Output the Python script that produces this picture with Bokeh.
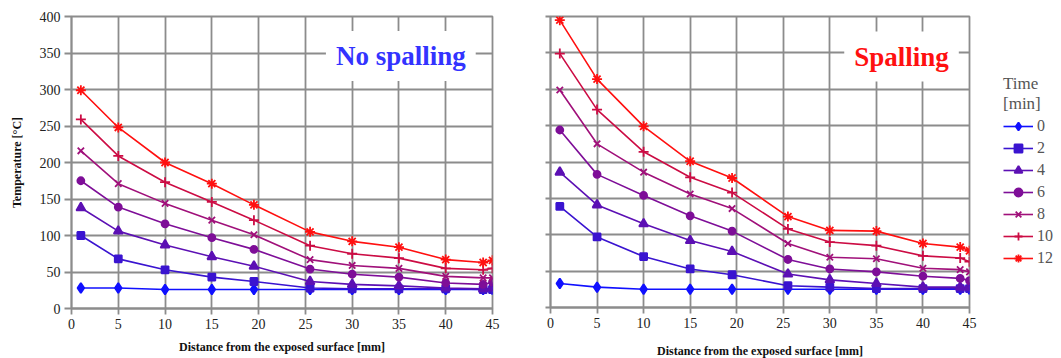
from bokeh.plotting import figure
from bokeh.models import Label, Legend, LegendItem, FixedTicker, Range1d
from bokeh.layouts import row
from bokeh.embed import file_html
from bokeh.resources import INLINE

# ---- data ----
dist = [1, 5, 10, 15, 19.5, 25.5, 30, 35, 40, 44, 45]
time_labels = ["0", "2", "4", "6", "8", "10", "12"]

ns_0 = [28, 28, 26, 26, 26, 26, 26, 26, 26, 26, 26]
ns_2 = [100, 68, 53, 43, 37, 28, 27, 27, 27, 26, 26]
ns_4 = [138, 106, 87, 71, 58, 37, 33, 31, 28, 27, 28]
ns_6 = [175, 139, 116, 97, 81, 54, 47, 43, 35, 33, 36]
ns_8 = [216, 171, 144, 121, 101, 67, 59, 55, 44, 42, 42]
ns_10 = [259, 209, 173, 146, 121, 86, 75, 69, 55, 53, 55]
ns_12 = [299, 248, 200, 171, 142, 105, 92, 84, 67, 63, 66]

sp_0 = [33, 28, 25, 25, 25, 25, 25, 25, 25, 25, 25]
sp_2 = [139, 97, 70, 53, 45, 30, 28, 26, 26, 26, 26]
sp_4 = [186, 141, 115, 92, 77, 46, 38, 33, 28, 28, 28]
sp_6 = [244, 183, 154, 126, 105, 66, 53, 49, 43, 40, 37]
sp_8 = [299, 225, 186, 156, 136, 88, 69, 67, 54, 52, 49]
sp_10 = [349, 272, 214, 179, 158, 108, 90, 85, 71, 68, 63]
sp_12 = [395, 314, 249, 201, 178, 125, 106, 105, 88, 83, 78]

x_ticks = [0, 5, 10, 15, 20, 25, 30, 35, 40, 45]
y_ticks = [0, 50, 100, 150, 200, 250, 300, 350, 400]

# ---- styles ----
colors = ["#1010ff", "#3a14d0", "#5c10b4", "#7e0e98", "#a0107a", "#cc0c44", "#ff1010"]
markers = ["diamond", "square", "triangle", "circle", "x", "cross", "asterisk"]
msizes = [10, 7, 9, 7, 9, 10, 10]
SERIF = "Liberation Serif"
GRID = "#8c8c8c"


def make_fig(series, left_border, top_border, bottom_border, right_border,
             fw, fh, show_ylabels, xlabel_standoff):
    p = figure(width=left_border + fw + right_border,
               height=top_border + fh + bottom_border,
               frame_width=fw, frame_height=fh,
               min_border_left=left_border, min_border_right=right_border,
               min_border_top=top_border, min_border_bottom=bottom_border,
               x_range=Range1d(0, 45), y_range=Range1d(0, 400),
               output_backend="svg", toolbar_location=None)
    p.background_fill_color = "white"
    p.border_fill_color = "white"
    p.outline_line_color = GRID
    p.outline_line_width = 1.8

    for ax in (p.xaxis[0], p.yaxis[0]):
        ax.axis_line_color = GRID
        ax.axis_line_width = 1.8
        ax.major_tick_line_color = GRID
        ax.major_tick_line_width = 1.8
        ax.major_tick_in = 0
        ax.minor_tick_line_color = None
        ax.major_label_text_font = SERIF
        ax.major_label_text_font_size = "14px"
        ax.major_label_text_color = "#222222"
        ax.axis_label_text_font = SERIF
        ax.axis_label_text_font_style = "bold"
        ax.axis_label_text_font_size = "12px"
        ax.axis_label_text_color = "#111111"

    p.xaxis.ticker = FixedTicker(ticks=x_ticks)
    p.yaxis.ticker = FixedTicker(ticks=y_ticks)
    p.xaxis.major_tick_out = 6
    p.xaxis.major_label_standoff = 4
    p.xaxis.axis_label = "Distance from the exposed surface [mm]"
    p.xaxis.axis_label_standoff = xlabel_standoff
    if show_ylabels:
        p.yaxis.major_tick_out = 7
        p.yaxis.major_label_standoff = 4
        p.yaxis.axis_label = "Temperature [°C]"
        p.yaxis.axis_label_standoff = 13
    else:
        p.yaxis.major_tick_out = 5
        p.yaxis.major_label_overrides = {t: "" for t in y_ticks}
        p.yaxis.major_label_standoff = 0

    p.xgrid.ticker = FixedTicker(ticks=x_ticks)
    p.ygrid.ticker = FixedTicker(ticks=y_ticks)
    for g in (p.xgrid[0], p.ygrid[0]):
        g.grid_line_color = GRID
        g.grid_line_width = 1.8

    rends = []
    for vals, c, m, s in zip(series, colors, markers, msizes):
        lr = p.line(dist, vals, line_color=c, line_width=1.6)
        sr = p.scatter(dist, vals, marker=m, size=s, fill_color=c,
                       line_color=c, line_width=1.8)
        rends.append((lr, sr))
    return p, rends


p1, _ = make_fig([ns_0, ns_2, ns_4, ns_6, ns_8, ns_10, ns_12],
                 71, 16, 48, 28, 421, 292, True, 8)
p2, rends2 = make_fig([sp_0, sp_2, sp_4, sp_6, sp_8, sp_10, sp_12],
                      30, 15, 50, 90, 419, 291, False, 13)

lab1 = Label(x=35.2, y=346, text="No spalling", text_font=SERIF,
             text_font_style="bold", text_font_size="27px",
             text_color="#3333ff", text_align="center", text_baseline="middle",
             background_fill_color="white", padding=10)
p1.add_layout(lab1)

lab2 = Label(x=37.7, y=345, text="Spalling", text_font=SERIF,
             text_font_style="bold", text_font_size="27px",
             text_color="#ff1010", text_align="center", text_baseline="middle",
             background_fill_color="white", padding=10)
p2.add_layout(lab2)

items = [LegendItem(label=t, renderers=[lr, sr]) for t, (lr, sr) in zip(time_labels, rends2)]
legend = Legend(items=items, title="Time\n[min]", location=(34, 39),
                glyph_width=30, glyph_height=20, label_height=20, spacing=2,
                padding=0, margin=0, border_line_color=None,
                background_fill_alpha=0, label_text_font=SERIF,
                label_text_font_size="16px", label_text_color="#555555",
                title_text_font=SERIF, title_text_font_size="17px",
                title_text_font_style="normal", title_text_color="#555555",
                title_standoff=2, label_standoff=4)
p2.add_layout(legend, "right")

layout = row(p1, p2, spacing=0)
open("out.html", "w").write(file_html(layout, INLINE))
